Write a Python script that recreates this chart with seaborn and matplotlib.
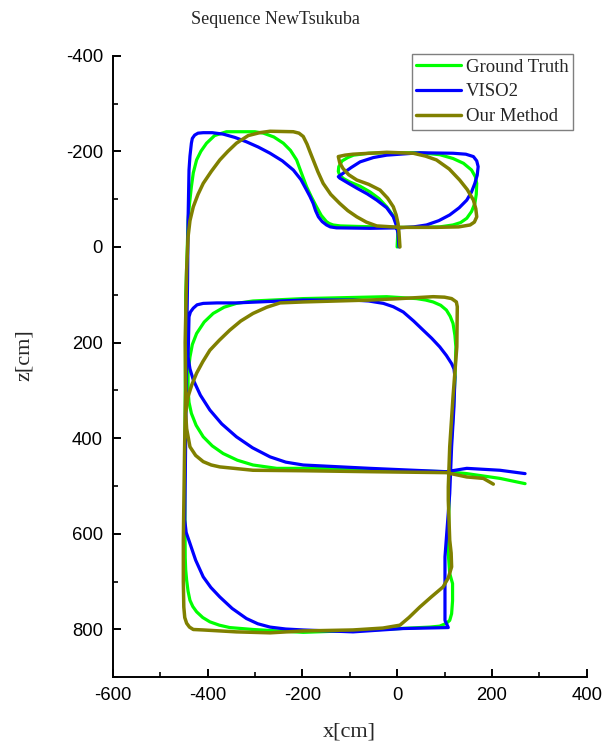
import matplotlib
matplotlib.use("Agg")
import matplotlib.pyplot as plt
from matplotlib.ticker import MultipleLocator
import seaborn as sns
import pandas as pd

# ---------------- data (x [cm], z [cm]) ----------------
gt_x = [0, 1, 2, -8, -22, -38, -57, -78, -100, -113, -121, -124, -123, -116, -104, -92, -60, -22, 48, 90,
        118, 140, 157, 165, 168, 167, 164, 157, 147, 134, 118, 90, 48, -1, -85, -120, -135, -143, -149,
        -160, -170, -181, -191, -202, -212, -225, -240, -260, -282, -300, -360, -385, -402, -414, -423,
        -430, -434, -438, -441, -443, -446, -447, -448, -447, -446, -444, -441, -437, -431, -423, -410,
        -395, -375, -353, -304, -198, -57, 69, 90, 104, 111, 115, 117, 117, 111, 108, 109, 111, 117,
        122, 124, 122, 118, 112, 104, 92, 76, 60, 41, -22, -198, -304, -339, -365, -388, -407, -423,
        -432, -437, -441, -441, -439, -434, -424, -409, -390, -367, -337, -304, -254, -163, 13, 104,
        147, 217, 270]
gt_z = [0, -20, -42, -65, -84, -101, -115, -127, -136, -143, -150, -158, -168, -180, -187, -192, -196, -197, -197, -193,
        -185, -175, -161, -147, -133, -110, -91, -74, -60, -51, -46, -42, -41, -41, -43, -44, -46, -49, -53,
        -66, -84, -105, -126, -155, -182, -202, -217, -230, -238, -241, -241, -233, -217, -200, -182,
        -155, -126, -90, -56, 13, 100, 300, 500, 650, 675, 697, 720, 739, 752, 763, 775,
        784, 791, 796, 800, 806, 801, 795, 793, 787, 781, 767, 740, 704, 683, 641, 560, 453, 370,
        278, 209, 185, 160, 145, 132, 122, 115, 111, 108, 104, 108, 113, 118, 126, 139, 157, 181,
        204, 230, 265, 299, 325, 348, 373, 397, 416, 432, 446, 456, 463, 463, 468, 470,
        474, 484, 495]

viso_x = [4, 3, 2, -2, -8, -22, -43, -63, -85, -104, -121, -124, -114, -97, -78, -50, -22, 48, 118, 145,
          161, 168, 171, 169, 164, 157, 147, 131, 111, 88, 62, 35, 6, -57, -128, -141, -149, -158, -166,
          -172, -177, -184, -191, -203, -219, -242, -268, -293, -318, -342, -367, -390, -409, -420, -427,
          -432, -434, -437, -439, -441, -442, -444, -446, -448, -445, -437, -425, -409, -393, -374, -348,
          -318, -294, -268, -235, -198, -93, 13, 108, 101, 101, 101, 111, 115, 120, 122, 120, 115, 104,
          90, 73, 55, 35, 13, -8, -29, -60, -93, -198, -339, -380, -409, -422, -430, -436, -439, -440,
          -441, -437, -430, -415, -395, -370, -339, -305, -268, -235, -198, -57, 104, 147, 217, 270]
viso_z = [0, -14, -28, -46, -63, -82, -98, -111, -123, -134, -144, -147, -154, -166, -178, -187, -192, -197, -196, -194,
          -189, -180, -168, -150, -133, -115, -98, -82, -67, -55, -46, -42, -40, -39, -40, -42, -46, -53, -63,
          -76, -91, -106, -119, -141, -161, -180, -196, -209, -220, -229, -236, -239, -239, -238, -234,
          -227, -217, -190, -161, -56, 69, 200, 400, 571, 597, 620, 655, 690, 712, 732, 756,
          777, 788, 795, 799, 801, 805, 798, 796, 781, 718, 648, 516, 418, 334, 272, 255, 244, 227,
          209, 191, 174, 155, 136, 125, 118, 113, 111, 111, 117, 117, 118, 121, 128, 136, 146, 190,
          230, 255, 278, 310, 341, 370, 397, 420, 439, 450, 456, 463, 470, 463, 467, 474]

our_x = [6, 5, 4, 2, -2, -8, -20, -36, -60, -85, -102, -114, -121, -124, -110, -93, -22, 34, 60, 83,
         110, 132, 148, 161, 166, 168, 163, 154, 130, 83, 6, -43, -65, -85, -104, -121, -140, -156,
         -167, -177, -183, -190, -198, -207, -219, -268, -290, -314, -339, -357, -374, -392, -409, -420,
         -430, -437, -441, -444, -447, -446, -448, -451, -451, -450, -448, -444, -438, -430, -409, -339,
         -268, -198, -93, -30, 6, 25, 48, 72, 97, 108, 115, 114, 111, 108, 108, 111, 118, 126, 127,
         125, 115, 100, 76, 6, -57, -198, -247, -275, -304, -330, -353, -375, -395, -410, -423, -433,
         -441, -446, -444, -437, -425, -409, -392, -374, -304, -198, -57, 104, 147, 182, 203]
our_z = [0, -15, -30, -49, -67, -84, -102, -119, -131, -140, -151, -164, -176, -189, -192, -194, -198, -196, -190, -182,
         -163, -140, -120, -98, -80, -63, -52, -46, -42, -41, -41, -44, -52, -63, -76, -91, -110, -133,
         -157, -182, -197, -215, -231, -238, -241, -242, -239, -233, -217, -200, -182, -158, -133, -110,
         -84, -55, -21, 48, 200, 300, 400, 613, 700, 753, 775, 787, 795, 800, 801, 805,
         807, 803, 801, 797, 791, 775, 753, 732, 711, 692, 669, 640, 613, 529, 502, 418, 313, 209, 125,
         115, 108, 105, 104, 108, 111, 115, 117, 126, 139, 155, 174, 195, 216, 240, 264, 288,
         313, 348, 380, 418, 436, 449, 456, 460, 467, 468, 470, 472, 481, 484, 496]

series_names = ["Ground Truth", "VISO2", "Our Method"]
series_colors = ["#00FF00", "#0000FF", "#808000"]
x_ticks = [-600, -400, -200, 0, 200, 400]
y_ticks = [-400, -200, 0, 200, 400, 600, 800]

# ---------------- style ----------------
sns.set_style("ticks")
plt.rcParams["font.family"] = ["Liberation Sans", "DejaVu Sans"]
plt.rcParams["axes.unicode_minus"] = False

fig = plt.figure(figsize=(6.08, 7.45), dpi=100)
ax = fig.add_axes([112.7 / 608, 1 - 677.3 / 745, (586.7 - 112.7) / 608, (677.3 - 55.7) / 745])

xs = [gt_x, viso_x, our_x]
zs = [gt_z, viso_z, our_z]
widths = [2.3, 2.3, 2.5]
for name, col, xv, zv, lw in zip(series_names, series_colors, xs, zs, widths):
    df = pd.DataFrame({"x": xv, "z": zv})
    sns.lineplot(data=df, x="x", y="z", sort=False, estimator=None, color=col,
                 linewidth=lw, label=name, ax=ax)

ax.set_xlim(-600, 400)
ax.set_ylim(900, -400)
ax.set_xticks(x_ticks)
ax.set_yticks(y_ticks)
ax.xaxis.set_minor_locator(MultipleLocator(100))
ax.yaxis.set_minor_locator(MultipleLocator(100))
ax.tick_params(which="major", direction="in", length=5.8, width=1.4, labelsize=13.3, pad=7,
               colors="black")
ax.tick_params(which="minor", direction="in", length=3.6, width=1.4)
for side in ["top", "right"]:
    ax.spines[side].set_visible(False)
for side in ["left", "bottom"]:
    ax.spines[side].set_linewidth(1.4)
    ax.spines[side].set_color("black")

serif = ["Liberation Serif", "DejaVu Serif"]
ax.set_xlabel("x[cm]", family=serif, fontsize=16)
ax.set_ylabel("z[cm]", family=serif, fontsize=16)
ax.xaxis.set_label_coords(0.5, -0.072)
ax.yaxis.set_label_coords(-0.166, 0.518)

fig.text(275 / 608, 1 - 20 / 745, "Sequence NewTsukuba", family=serif, fontsize=13,
         ha="center", va="center")

leg = ax.legend(loc="upper right", bbox_to_anchor=(573.3 / 608, 1 - 54 / 745),
                bbox_transform=fig.transFigure, borderaxespad=0, frameon=True, fancybox=False,
                prop={"family": serif, "size": 13.5}, handlelength=2.4, handletextpad=0.25,
                labelspacing=0.4, borderpad=0.25)
leg.get_frame().set_edgecolor("#7f7f7f")
leg.get_frame().set_linewidth(1.0)
leg.get_frame().set_alpha(1)

fig.savefig("out.png", dpi=100)
